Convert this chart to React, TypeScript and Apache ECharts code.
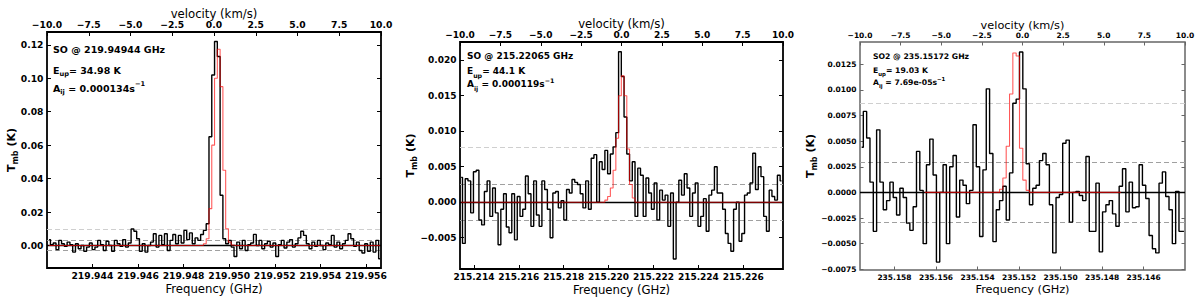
import React, { useEffect, useRef } from "react";
import * as echarts from "echarts";

const FONT = "DejaVu Sans";

// ---------------- Panel 1 : SO @ 219.94944 GHz ----------------
const p1Title = "SO @ 219.94944 GHz";
const p1Eup = "34.98 K";
const p1Aij = "0.000134";
const p1ChanStart = 219.9421; // GHz, centre of first channel
const p1ChanWidth = 0.000122; // GHz
const p1Tmb = [
  0.0035, 0.0005, 0.0015, -0.0025, 0.003, 0.001, -0.0005, 0.002, 0.0005, -0.004,
  0.001, -0.002, 0.0, -0.0035, -0.001, 0.0015, -0.0025, -0.001, 0.003, 0.0005,
  -0.003, 0.0025, 0.0, -0.0035, 0.003, 0.001, -0.0005, 0.0035, -0.001, 0.0015,
  0.0098, 0.0085, 0.004, -0.0035, 0.001, -0.004, 0.0, 0.002, 0.007, -0.001,
  0.006, 0.0005, 0.007, -0.003, 0.003, 0.0065, 0.001, 0.006, 0.0015, 0.009,
  0.0035, 0.0075, 0.001, 0.0045, 0.003, 0.0065, 0.009, 0.013, 0.065, 0.102,
  0.122, 0.113, 0.03, 0.004, 0.001, 0.003, -0.001, -0.0066, 0.002, -0.002,
  0.003, -0.003, 0.0005, 0.0015, 0.0066, 0.0, 0.003, -0.002, 0.001, 0.0025,
  -0.001, 0.0015, -0.0066, 0.0005, 0.003, -0.0015, 0.002, 0.0035, -0.001, 0.001,
  0.0045, 0.0085, 0.006, 0.001, -0.002, 0.002, -0.0005, 0.003, 0.0, -0.0025,
  0.0015, 0.0005, 0.006, -0.001, 0.002, -0.002, 0.001, 0.003, 0.007, 0.004,
  -0.0005, 0.002, -0.003, -0.0045, 0.001, -0.0035, 0.002, -0.004, 0.003, -0.008,
];
const p1ModelFirstChan = 56;
const p1ModelPeak = [0.001, 0.004, 0.022, 0.06, 0.1, 0.1174, 0.095, 0.045, 0.01, 0.002, 0.0003];
const p1ModelChans = [0, 119];
const p1SigmaLines = [0.0034, -0.0026];
const p1ThreeSigma = [0.0098];
const p1FreqTicks = [219.944, 219.946, 219.948, 219.95, 219.952, 219.954, 219.956];
const p1TmbTicks = [0, 0.02, 0.04, 0.06, 0.08, 0.1, 0.12];
const p1FreqRange = [219.94201, 219.95666];
const p1TmbRange = [-0.0135, 0.1277];

// ---------------- Panel 2 : SO @ 215.22065 GHz ----------------
const p2Title = "SO @ 215.22065 GHz";
const p2Eup = "44.1 K";
const p2Aij = "0.000119";
const p2ChanStart = 215.21343;
const p2ChanWidth = 0.000122;
const p2Tmb = [
  0.0035, -0.0058, 0.0033, 0.003, -0.0015, 0.0043, 0.0045, -0.0025, -0.0032, 0.0015,
  0.003, -0.002, 0.002, -0.0015, -0.006, -0.001, 0.0012, -0.0035, -0.0043, 0.0012,
  -0.0053, 0.0008, -0.002, -0.001, 0.0037, 0.0012, -0.0034, 0.003, -0.0018, -0.0034,
  0.003, 0.0018, -0.001, -0.005, 0.0013, 0.0015, -0.0008, 0.0002, -0.0025, 0.0018,
  0.0013, 0.0032, 0.0028, 0.0025, 0.0012, -0.0008, 0.003, -0.001, 0.0062, 0.0067,
  0.0, 0.0057, 0.0046, 0.0073, 0.004, 0.0068, 0.0078, 0.0098, 0.0212, 0.0177,
  0.012, 0.0068, 0.003, 0.0057, -0.002, 0.0048, 0.0038, -0.002, 0.0034, 0.0013,
  -0.001, 0.0027, -0.0025, 0.0017, 0.0003, 0.001, -0.0034, 0.0013, -0.008, 0.0,
  0.0031, 0.001, 0.004, 0.002, -0.002, 0.0013, 0.0027, -0.0034, -0.002, 0.0005,
  -0.0041, 0.001, 0.0017, 0.005, 0.0013, 0.0013, -0.001, -0.0044, -0.0058, -0.0069,
  -0.001, 0.0, -0.0055, -0.0044, 0.001, 0.0013, 0.0027, 0.0069, 0.0018, 0.005,
  0.0036, -0.002, -0.0041, 0.0017, 0.0008, 0.0003, 0.0038, 0.003,
];
const p2ModelFirstChan = 53;
const p2ModelPeak = [0.0003, 0.0008, 0.002, 0.0045, 0.009, 0.015, 0.0178, 0.015, 0.0075, 0.0025, 0.0006];
const p2ModelChans = [0, 117];
const p2SigmaLines = [0.0026, -0.0025];
const p2ThreeSigma = [0.0078];
const p2FreqTicks = [215.214, 215.216, 215.218, 215.22, 215.222, 215.224, 215.226];
const p2TmbTicks = [-0.005, 0, 0.005, 0.01, 0.015, 0.02];
const p2FreqRange = [215.21338, 215.22777];
const p2TmbRange = [-0.00941, 0.02257];

// ---------------- Panel 3 : SO2 @ 235.15172 GHz ----------------
const p3Title = "SO2 @ 235.15172 GHz";
const p3Eup = "19.03 K";
const p3Aij = "7.69e-05";
const p3ChanStart = 235.15958;
const p3ChanWidth = -0.00016;
const p3Tmb = [
  0.0044, 0.0079, 0.0053, 0.001, -0.0038, 0.0061, 0.001, -0.0017, -0.0008, 0.001,
  -0.0005, -0.0022, 0.0004, -0.0005, -0.003, -0.0037, -0.0014, 0.004, 0.0002, -0.005,
  0.0027, 0.0052, 0.0017, -0.0068, 0.0, 0.0027, -0.005, 0.0025, 0.0036, -0.0024,
  0.0012, 0.0007, -0.0011, 0.0002, 0.0066, 0.0025, -0.0043, 0.0022, 0.0101, 0.0038,
  -0.0048, -0.0017, -0.0008, 0.0006, -0.0027, 0.0019, 0.0087, 0.0091, 0.0137, 0.0101,
  0.0028, -0.0012, 0.0004, 0.0007, 0.0031, 0.0038, 0.0027, -0.0012, -0.0059, -0.0005,
  -0.0002, 0.0048, 0.0051, -0.0029, 0.0, 0.0001, -0.0003, -0.0008, 0.0035, -0.0038,
  -0.0038, 0.0009, -0.0058, -0.0019, -0.0012, -0.0008, -0.0021, -0.0033, 0.0006, 0.0023,
  -0.0019, 0.001, -0.0015, -0.0014, 0.0027, 0.0007, -0.0006, -0.0042, -0.0055, -0.0059,
  0.0009, 0.002, -0.0004, -0.0017, -0.005, 0.0001, -0.0038, -0.0038,
];
const p3ModelFirstChan = 42;
const p3ModelPeak = [0.0003, 0.0014, 0.0045, 0.0096, 0.0136, 0.0133, 0.0043, 0.0012, 0.0002];
const p3ModelChans = [19, 78];
const p3SigmaLines = [0.0029, -0.0029];
const p3ThreeSigma = [0.0087];
const p3FreqTicks = [235.146, 235.148, 235.15, 235.152, 235.154, 235.156, 235.158];
const p3TmbTicks = [-0.0075, -0.005, -0.0025, 0, 0.0025, 0.005, 0.0075, 0.01, 0.0125];
const p3FreqRange = [235.14401, 235.15966];
const p3TmbRange = [-0.00757, 0.01467];

// shared velocity axis
const velocityRange = [-10, 10];
const velocityStep = 2.5;

const fmt = (v: number, d: number) => v.toFixed(d).replace("-", "\u2212");

function spectrum(start: number, width: number, vals: number[]) {
  return vals.map((v, i) => [start + i * width, v]);
}
function model(start: number, width: number, span: number[], first: number, peak: number[]) {
  const out: number[][] = [];
  for (let i = span[0]; i <= span[1]; i++) {
    const k = i - first;
    out.push([start + i * width, k >= 0 && k < peak.length ? peak[k] : 0]);
  }
  return out;
}

const panels = [
  {
    title: p1Title, eup: p1Eup, aij: p1Aij,
    data: spectrum(p1ChanStart, p1ChanWidth, p1Tmb),
    model: model(p1ChanStart, p1ChanWidth, p1ModelChans, p1ModelFirstChan, p1ModelPeak),
    sigma: p1SigmaLines, three: p1ThreeSigma,
    fTicks: p1FreqTicks, yTicks: p1TmbTicks, fRange: p1FreqRange, yRange: p1TmbRange,
    inverse: false, yDec: 2,
    box: { left: 47, top: 32, width: 334, height: 236 },
    tickFs: 9.2, nameFs: 11.7, tickLen: 4, border: "#000", borderW: 1.8,
    yGap: 28, topGap: 12, botGap: 15, topMargin: 3,
    ann: { x: 53, ys: [49, 70, 88], fs: 9.5 },
  },
  {
    title: p2Title, eup: p2Eup, aij: p2Aij,
    data: spectrum(p2ChanStart, p2ChanWidth, p2Tmb),
    model: model(p2ChanStart, p2ChanWidth, p2ModelChans, p2ModelFirstChan, p2ModelPeak),
    sigma: p2SigmaLines, three: p2ThreeSigma,
    fTicks: p2FreqTicks, yTicks: p2TmbTicks, fRange: p2FreqRange, yRange: p2TmbRange,
    inverse: false, yDec: 3,
    box: { left: 460, top: 42, width: 323, height: 227 },
    tickFs: 9, nameFs: 11.7, tickLen: 4, border: "#000", borderW: 1.8,
    yGap: 42, topGap: 12, botGap: 15, topMargin: 3,
    ann: { x: 467, ys: [56, 71, 84], fs: 9 },
  },
  {
    title: p3Title, eup: p3Eup, aij: p3Aij,
    data: spectrum(p3ChanStart, p3ChanWidth, p3Tmb),
    model: model(p3ChanStart, p3ChanWidth, p3ModelChans, p3ModelFirstChan, p3ModelPeak),
    sigma: p3SigmaLines, three: p3ThreeSigma,
    fTicks: p3FreqTicks, yTicks: p3TmbTicks, fRange: p3FreqRange, yRange: p3TmbRange,
    inverse: true, yDec: 4,
    box: { left: 860, top: 42, width: 325, height: 228 },
    tickFs: 7.5, nameFs: 11.3, tickLen: 3.5, border: "#666", borderW: 1.5,
    yGap: 42, topGap: 11, botGap: 14, topMargin: 3,
    ann: { x: 873, ys: [56, 70, 82], fs: 7.7 },
  },
];

function richFor(fs: number) {
  const lh = Math.round(fs * 1.6);
  const base = { fontFamily: FONT, fontWeight: "bold", fill: "#000", color: "#000", lineHeight: lh };
  return {
    n: { ...base, fontSize: fs, verticalAlign: "middle" },
    s: { ...base, fontSize: fs * 0.7, verticalAlign: "bottom" },
    p: { ...base, fontSize: fs * 0.7, verticalAlign: "top" },
  };
}

function buildOption() {
  const grid: any[] = [];
  const xAxis: any[] = [];
  const yAxis: any[] = [];
  const series: any[] = [];
  const graphic: any[] = [];

  panels.forEach((p, k) => {
    grid.push({
      ...p.box,
      show: true,
      borderColor: p.border,
      borderWidth: p.borderW,
      backgroundColor: "transparent",
      containLabel: false,
      outerBoundsMode: "none",
    });
    const tickStyle = { color: p.border, width: 1 };
    const labelStyle = { fontFamily: FONT, fontWeight: "bold", fontSize: p.tickFs, color: "#000" };
    const nameStyle = { fontFamily: FONT, fontSize: p.nameFs, color: "#000" };
    // bottom: frequency
    xAxis.push({
      gridIndex: k, type: "value", position: "bottom",
      min: p.fRange[0], max: p.fRange[1], inverse: p.inverse,
      axisLine: { show: false, onZero: false },
      axisTick: { show: true, inside: true, length: p.tickLen, lineStyle: tickStyle, customValues: p.fTicks },
      axisLabel: { ...labelStyle, margin: 3, customValues: p.fTicks, formatter: (v: number) => v.toFixed(3) },
      splitLine: { show: false },
      name: "Frequency (GHz)", nameLocation: "middle", nameGap: p.botGap, nameTextStyle: nameStyle,
      nameMoveOverlap: false,
    });
    // top: velocity
    xAxis.push({
      gridIndex: k, type: "value", position: "top",
      min: velocityRange[0], max: velocityRange[1], interval: velocityStep,
      axisLine: { show: false, onZero: false },
      axisTick: { show: true, inside: true, length: p.tickLen, lineStyle: tickStyle },
      axisLabel: { ...labelStyle, margin: p.topMargin, showMinLabel: true, showMaxLabel: true, formatter: (v: number) => fmt(v, 1) },
      splitLine: { show: false },
      name: "velocity (km/s)", nameLocation: "middle", nameGap: p.topGap, nameTextStyle: nameStyle,
      nameMoveOverlap: false,
    });
    const yBase = {
      gridIndex: k, type: "value", min: p.yRange[0], max: p.yRange[1],
      axisLine: { show: false, onZero: false },
      splitLine: { show: false },
    };
    yAxis.push({
      ...yBase, position: "left",
      axisTick: { show: true, inside: true, length: p.tickLen, lineStyle: tickStyle, customValues: p.yTicks },
      axisLabel: { ...labelStyle, margin: 3.5, customValues: p.yTicks, formatter: (v: number) => fmt(v, p.yDec) },
      name: "{t|T}{s|mb}{t| (K)}", nameLocation: "middle", nameGap: p.yGap,
      nameMoveOverlap: false,
      nameTextStyle: {
        fontFamily: FONT, fontSize: 11, fontWeight: "bold", color: "#000",
        rich: {
          t: { fontFamily: FONT, fontSize: 11, fontWeight: "bold", color: "#000", lineHeight: 16, verticalAlign: "middle" },
          s: { fontFamily: FONT, fontSize: 8, fontWeight: "bold", color: "#000", lineHeight: 16, verticalAlign: "bottom" },
        },
      },
    });
    yAxis.push({
      ...yBase, position: "right",
      axisTick: { show: true, inside: true, length: p.tickLen, lineStyle: tickStyle, customValues: p.yTicks },
      axisLabel: { show: false },
    });

    const xi = 2 * k;
    const yi = 2 * k;
    const dashed = (v: number, color: string) => ({ yAxis: v, lineStyle: { color, type: [5, 3], width: 1 } });
    series.push({
      type: "line", xAxisIndex: xi, yAxisIndex: yi, data: [], silent: true, z: 1,
      markLine: {
        silent: true, symbol: ["none", "none"], label: { show: false }, emphasis: { disabled: true },
        precision: 8, z: 1,
        data: [
          ...p.three.map((v) => dashed(v, "#cfcfcf")),
          ...p.sigma.map((v) => dashed(v, "#a0a0a0")),
          { yAxis: 0, lineStyle: { color: "#000", type: "solid", width: 1.4 } },
        ],
      },
    });
    series.push({
      type: "line", xAxisIndex: xi, yAxisIndex: yi, data: p.data, step: "middle", z: 3,
      showSymbol: false, symbol: "none", silent: true,
      lineStyle: { color: "#000", width: 1.4 }, itemStyle: { color: "#000" },
    });
    series.push({
      type: "line", xAxisIndex: xi, yAxisIndex: yi, data: p.model, step: "middle", z: 4,
      showSymbol: false, symbol: "none", silent: true,
      lineStyle: { color: "rgba(255,0,0,0.65)", width: 1.1 }, itemStyle: { color: "red" },
    });

    const rich = richFor(p.ann.fs);
    const texts = [
      `{n|${p.title}}`,
      `{n|E}{s|up}{n|= ${p.eup}}`,
      `{n|A}{s|ij}{n| = ${p.aij}s}{p|\u22121}`,
    ];
    texts.forEach((t, j) => {
      graphic.push({
        type: "text", x: p.ann.x, y: p.ann.ys[j], silent: true,
        style: { text: t, rich, fill: "#000", align: "left", verticalAlign: "middle", fontFamily: FONT, fontSize: p.ann.fs, fontWeight: "bold" },
      });
    });
  });

  return { animation: false, backgroundColor: "#fff", grid, xAxis, yAxis, series, graphic };
}

export default function App() {
  const ref = useRef<HTMLDivElement>(null);
  useEffect(() => {
    if (!ref.current) return;
    const chart = echarts.init(ref.current, undefined, { renderer: "svg" });
    chart.setOption(buildOption() as any);
    return () => chart.dispose();
  }, []);
  return (
    <div
      ref={ref}
      style={{ position: "fixed", left: 0, top: 0, width: 1200, height: 303, background: "#fff" }}
    />
  );
}
